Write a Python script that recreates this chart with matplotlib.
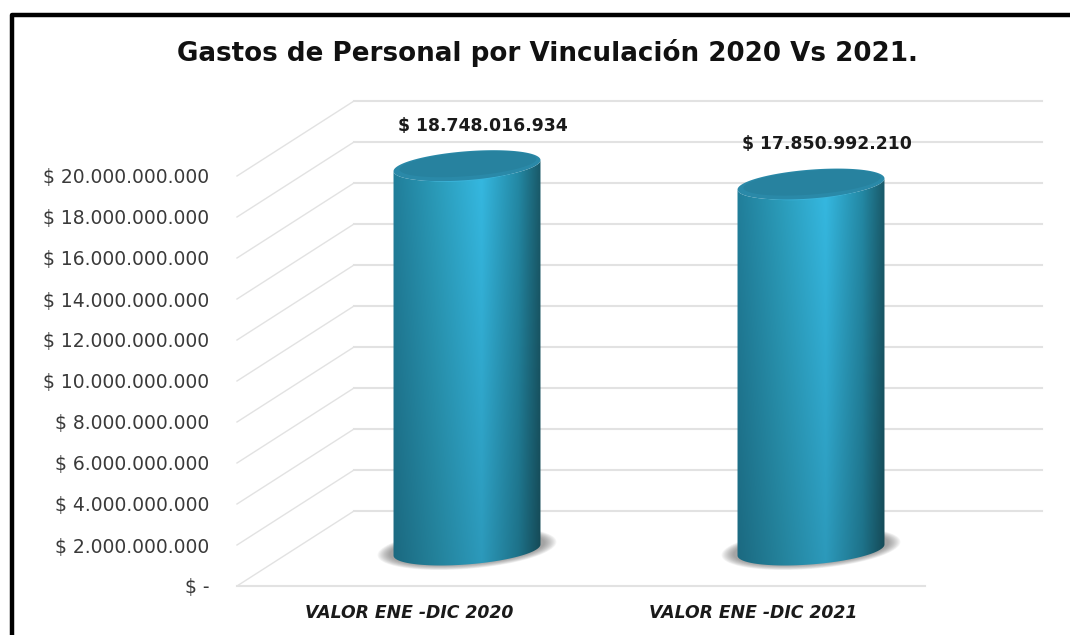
import numpy as np
import matplotlib
matplotlib.use('Agg')
import matplotlib.pyplot as plt
from matplotlib.lines import Line2D
from matplotlib.patches import Polygon

plt.rcParams['font.family'] = ['DejaVu Sans']

title = 'Gastos de Personal por Vinculación 2020 Vs 2021.'
categories = ['VALOR ENE -DIC 2020', 'VALOR ENE -DIC 2021']
values = [18748016934, 17850992210]
value_labels = ['$ 18.748.016.934', '$ 17.850.992.210']
ticks = [0, 2e9, 4e9, 6e9, 8e9, 10e9, 12e9, 14e9, 16e9, 18e9, 20e9]
tick_labels = ['$ -', '$ 2.000.000.000', '$ 4.000.000.000', '$ 6.000.000.000',
               '$ 8.000.000.000', '$ 10.000.000.000', '$ 12.000.000.000',
               '$ 14.000.000.000', '$ 16.000.000.000', '$ 18.000.000.000',
               '$ 20.000.000.000']

W, H = 1070, 635
LEFT, RIGHT, BASE, TOP = 237, 925, 586, 176

fig = plt.figure(figsize=(W / 100, H / 100), dpi=100, facecolor='white')
ax = fig.add_axes([LEFT / W, 1 - BASE / H, (RIGHT - LEFT) / W, (BASE - TOP) / H])
ax.set_xlim(-0.5, 1.5)
ax.set_ylim(0, 20e9)
ax.patch.set_visible(False)
for s in ax.spines.values():
    s.set_visible(False)

# size of one pixel in data units
px = 2 / (RIGHT - LEFT)
py = 20e9 / (BASE - TOP)
wall_dx, wall_dy = 117 * px, 75 * py
bar_dx, bar_dy = 58 * px, 36 * py

ax.set_xticks(range(len(categories)), categories, fontsize=12.4, fontweight='bold',
              fontstyle='italic', color='#1a1a1a')
ax.set_yticks(ticks, tick_labels, fontsize=13.5, color='#3a3a3a')
ax.tick_params(axis='x', length=0, pad=13)
ax.tick_params(axis='y', length=0, pad=20)

# walls of the fake 3d box
for v in ticks:
    ax.plot([-0.5, -0.5 + wall_dx], [v, v + wall_dy], color='#e2e2e2', lw=1.0, clip_on=False, zorder=1)
    ax.plot([-0.5 + wall_dx, 1.5 + wall_dx], [v + wall_dy, v + wall_dy], color='#e2e2e2', lw=1.5,
            clip_on=False, zorder=1)
ax.plot([-0.5, 1.5], [0, 0], color='#e2e2e2', lw=1.5, clip_on=False, zorder=1)


def ellipse(cx, cy, a, b, t):
    phi = np.radians(4.5)
    x = a * np.cos(t) * np.cos(phi) - b * np.sin(t) * np.sin(phi)
    y = a * np.cos(t) * np.sin(phi) + b * np.sin(t) * np.cos(phi)
    return np.column_stack([cx + x * px, cy + y * py])


A, B = 73.7, 14.4
t0 = np.arctan(-(B / A) * np.tan(np.radians(4.5)))
lower = np.linspace(t0, t0 - np.pi, 80)
full = np.linspace(0, 2 * np.pi, 160)

# horizontal shading of the cylinder
stops = [0, 0.3, 0.6, 0.85, 1]
red = [0.13, 0.17, 0.21, 0.14, 0.10]
green = [0.50, 0.62, 0.73, 0.54, 0.35]
blue = [0.61, 0.74, 0.89, 0.65, 0.41]
xs = np.linspace(0, 1, 200)
ys = np.linspace(1, 0.82, 200)[:, None]
shade = np.dstack([np.outer(ys, np.interp(xs, stops, c)) for c in (red, green, blue)])

for i, v in enumerate(values):
    cx = i + bar_dx
    # soft shadow on the floor
    for k in range(12):
        grow = 1 - k / 12
        pts = ellipse(cx, bar_dy + 1.5 * py, A + 3 + 13 * grow, B + 1 + 5 * grow, full)
        ax.add_patch(Polygon(pts, fc='#555555', ec='none', alpha=0.06, clip_on=False, zorder=2))

    top_y = v + bar_dy
    body = np.vstack([ellipse(cx, top_y, A, B, lower[::-1]),
                      ellipse(cx, bar_dy, A, B, lower)])
    clip = Polygon(body, fc='none', ec='none', clip_on=False, zorder=3)
    ax.add_patch(clip)
    im = ax.imshow(shade, extent=[cx - A * px, cx + A * px, bar_dy - 20 * py, top_y + 20 * py],
                   aspect='auto', zorder=3, interpolation='bilinear')
    im.set_clip_box(fig.bbox)
    im.set_clip_path(clip)

    # lit rim and top face
    ax.add_patch(Polygon(ellipse(cx, top_y - 2 * py, A - 12, B - 1, full), fc='#3ab4da', ec='none',
                         clip_on=False, zorder=4))
    ax.add_patch(Polygon(ellipse(cx, top_y, A, B, full), fc='#2a89a8', ec='none',
                         clip_on=False, zorder=5))
    ax.add_patch(Polygon(ellipse(cx + 1 * px, top_y + 1.5 * py, A - 5, B - 2.5, full), fc='#27829f', ec='none',
                         clip_on=False, zorder=6))

    ax.annotate(value_labels[i], xy=(cx, top_y), xytext=(11.5, 28.5), textcoords='offset points',
                ha='center', va='center', fontsize=12.4, fontweight='bold', color='#1a1a1a',
                annotation_clip=False)

ax.set_xlim(-0.5, 1.5)
ax.set_ylim(0, 20e9)

fig.text(547 / W, 1 - 53 / H, title, ha='center', va='center', fontsize=18.85, fontweight='bold', color='#111111')

# black frame, only top and left are inside the crop
fig.add_artist(Line2D([11.7 / W, 11.7 / W, 1], [0, 1 - 15 / H, 1 - 15 / H], color='black', lw=3.2,
                      solid_joinstyle='round', solid_capstyle='butt'))

fig.savefig('out.png', dpi=100)
